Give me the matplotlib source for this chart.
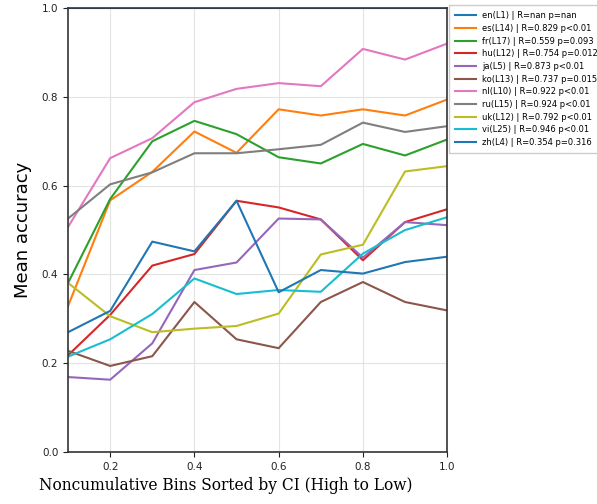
import matplotlib
matplotlib.use("Agg")
import matplotlib.pyplot as plt

# bins (noncumulative, sorted by CI)
bins = [0.1, 0.2, 0.3, 0.4, 0.5, 0.6, 0.7, 0.8, 0.9, 1.0]

labels = [
    "en(L1) | R=nan p=nan",
    "es(L14) | R=0.829 p<0.01",
    "fr(L17) | R=0.559 p=0.093",
    "hu(L12) | R=0.754 p=0.012",
    "ja(L5) | R=0.873 p<0.01",
    "ko(L13) | R=0.737 p=0.015",
    "nl(L10) | R=0.922 p<0.01",
    "ru(L15) | R=0.924 p<0.01",
    "uk(L12) | R=0.792 p<0.01",
    "vi(L25) | R=0.946 p<0.01",
    "zh(L4) | R=0.354 p=0.316",
]

en = [1.0, 1.0, 1.0, 1.0, 1.0, 1.0, 1.0, 1.0, 1.0, 1.0]
es = [0.329, 0.567, 0.631, 0.722, 0.674, 0.772, 0.758, 0.772, 0.758, 0.794]
fr = [0.381, 0.570, 0.700, 0.746, 0.716, 0.664, 0.650, 0.694, 0.668, 0.704]
hu = [0.218, 0.309, 0.420, 0.446, 0.566, 0.551, 0.524, 0.432, 0.518, 0.547]
ja = [0.169, 0.163, 0.245, 0.410, 0.427, 0.526, 0.524, 0.438, 0.518, 0.511]
ko = [0.228, 0.194, 0.216, 0.338, 0.254, 0.234, 0.338, 0.383, 0.338, 0.319]
nl = [0.507, 0.662, 0.707, 0.788, 0.818, 0.831, 0.824, 0.908, 0.884, 0.920]
ru = [0.526, 0.603, 0.630, 0.673, 0.673, 0.682, 0.692, 0.742, 0.721, 0.734]
uk = [0.381, 0.306, 0.270, 0.278, 0.284, 0.312, 0.445, 0.467, 0.632, 0.644]
vi = [0.215, 0.254, 0.311, 0.391, 0.356, 0.365, 0.361, 0.447, 0.500, 0.529]
zh = [0.270, 0.318, 0.474, 0.452, 0.566, 0.360, 0.410, 0.402, 0.428, 0.440]

series = [en, es, fr, hu, ja, ko, nl, ru, uk, vi, zh]

fig = plt.figure(figsize=(5.97, 5.04), dpi=100)
ax = fig.add_axes([0.114, 0.103, 0.635, 0.881])

for vals, lab in zip(series, labels):
    ax.plot(bins, vals, label=lab, linewidth=1.5)

ax.set_xlim(0.1, 1.0)
ax.set_ylim(0.0, 1.0)
ax.set_xticks([0.2, 0.4, 0.6, 0.8, 1.0])
ax.set_yticks([0.0, 0.2, 0.4, 0.6, 0.8, 1.0])
ax.grid(True, color="#e3e3e3", linewidth=0.8)
ax.set_axisbelow(True)
ax.tick_params(labelsize=7.5, length=3.5, width=0.8, colors="#222222")
for s in ax.spines.values():
    s.set_color("#333333")
    s.set_linewidth(1.2)

ax.set_xlabel("Noncumulative Bins Sorted by CI (High to Low)", family="DejaVu Serif", fontsize=11.2)
ax.xaxis.set_label_coords(0.416, -0.055)
ax.set_ylabel("Mean accuracy", fontsize=13)
ax.yaxis.set_label_coords(-0.095, 0.5)

ax.legend(loc="upper left", bbox_to_anchor=(1.005, 1.006), borderaxespad=0,
          fontsize=6, handlelength=2.5, labelspacing=0.44, borderpad=0.7,
          framealpha=1, fancybox=False, edgecolor="#cccccc")

fig.savefig("out.png", dpi=100)
